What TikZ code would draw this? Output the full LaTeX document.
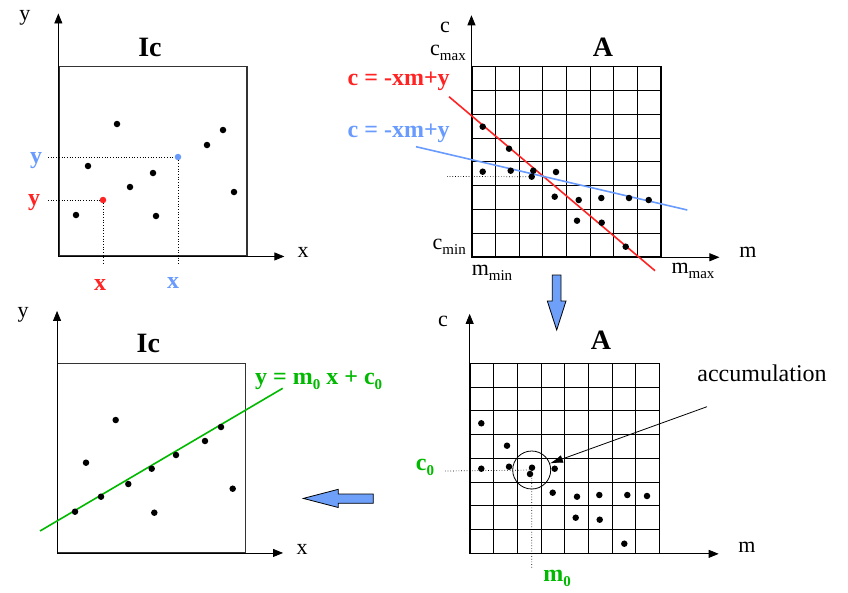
\documentclass[tikz,border=0pt]{standalone}
\usepackage{fontspec}
\setmainfont{Liberation Serif}
\usetikzlibrary{arrows.meta, positioning}
\definecolor{houghred}{RGB}{255,35,35}
\definecolor{houghblue}{RGB}{105,155,255}
\definecolor{houghgreen}{RGB}{0,185,0}
\definecolor{arrowblue}{RGB}{110,160,250}
\newcommand{\lowtext}[1]{\raisebox{-0.45ex}{\fontsize{15}{15}\selectfont #1}}

\begin{document}
\begin{tikzpicture}[
    x=1pt, y=-1pt,
    >={Triangle[length=10pt,width=8pt]},
    axis/.style={->, line width=0.8pt},
    imgbox/.style={draw=black!80, line width=1.3pt, minimum width=188pt, minimum height=189pt, inner sep=0pt},
    gridbox/.style={draw, line width=1.1pt, minimum width=189pt, minimum height=190pt, inner sep=0pt},
    gridline/.style={line width=0.8pt},
    spot/.style={circle, fill=black, inner sep=0pt, minimum size=6.5pt},
    lbl/.style={font=\fontsize{22}{24}\selectfont, inner sep=1pt},
    title/.style={font=\fontsize{28}{30}\selectfont\bfseries, inner sep=1pt},
    eqn/.style={font=\fontsize{24}{26}\selectfont\bfseries, inner sep=1pt},
    guide/.style={dotted, line width=0.7pt},
    fitline/.style={line width=1.6pt},
    blockarrow/.style={draw=black, line width=0.8pt, fill=arrowblue},
]
    \useasboundingbox (0,0) rectangle (848,592);

    % image space, one point and its coordinates
    \node[imgbox] (icTop) at (153,161.3) {};
    \node[title] (icTopTitle) at (150,47) {Ic};
    \draw[axis] (icTop.south west) -- ++(0,-243);
    \draw[axis] (icTop.south west) -- ++(226,0);
    \node[lbl] (icTopY) at (25,18) {y};
    \node[lbl] (icTopX) at (303,252) {x};
    \foreach \px/\py [count=\k] in {117/124, 88/166, 76/215, 130/187, 153/173, 156/216, 207/145, 223/130, 234/192}
        \node[spot] (tl\k) at (\px,\py) {};
    \node[spot, fill=houghred] (ptRed) at (103,200) {};
    \node[spot, fill=houghblue] (ptBlue) at (178,157) {};
    \coordinate (redY) at (48,200);
    \coordinate (redX) at (103,265);
    \coordinate (blueY) at (48,157);
    \coordinate (blueX) at (178,265);
    \draw[guide] (redY) -- (ptRed) -- (redX);
    \draw[guide] (blueY) -- (ptBlue) -- (blueX);
    \node[eqn, text=houghred] (labRedY) at (34,203) {y};
    \node[eqn, text=houghred] (labRedX) at (100,285) {x};
    \node[eqn, text=houghblue] (labBlueY) at (36,161) {y};
    \node[eqn, text=houghblue] (labBlueX) at (173,283) {x};

    % accumulator with the two lines
    \node[gridbox] (accTop) at (566.5,161.7) {};
    \foreach \i in {1,...,7} {
        \draw[gridline] (472+23.625*\i,66.7) -- (472+23.625*\i,256.7);
        \draw[gridline] (472,66.7+23.75*\i) -- (661,66.7+23.75*\i);
    }
    \draw[axis] (accTop.south west) -- ++(0,-242);
    \draw[axis] (accTop.south west) -- ++(248,0);
    \node[lbl] (accTopC) at (445,27) {c};
    \node[lbl] (accTopM) at (748,252) {m};
    \node[title] (accTopTitle) at (603,47) {A};
    \node[lbl, anchor=east] (cMax) at (467,53) {c\lowtext{max}};
    \node[lbl, anchor=east] (cMin) at (467,247) {c\lowtext{min}};
    \node[lbl] (mMin) at (492,273) {m\lowtext{min}};
    \node[lbl] (mMax) at (693,271) {m\lowtext{max}};
    \coordinate (redA) at (449,96.7);
    \coordinate (redB) at (655,270.7);
    \coordinate (blueA) at (416,146.7);
    \coordinate (blueB) at (687.3,210);
    \draw[fitline, houghred] (redA) -- (redB);
    \draw[fitline, houghblue] (blueA) -- (blueB);
    \node[eqn, text=houghred] (eqRed) at (398.7,81.7) {c = -xm+y};
    \node[eqn, text=houghblue] (eqBlue) at (398.7,133.3) {c = -xm+y};
    \foreach \px/\py [count=\k] in {482.7/126.7, 509/148.7, 482.7/171.7, 510.7/170.7, 533.3/170.7, 556/172, 554.7/196.7, 578.7/200, 601.3/198, 629/198, 648.7/200, 577/220.7, 601.7/222.7, 625.7/246.7}
        \node[spot] (tr\k) at (\px,\py) {};
    \node[spot] (votePeak) at (531.7,176.7) {};
    \coordinate (cMark) at (447,176.5);
    \draw[guide] (cMark) -- (votePeak.west);

    % accumulator after voting
    \node[gridbox] (accBot) at (564.7,458.3) {};
    \foreach \i in {1,...,7} {
        \draw[gridline] (470+23.66*\i,363.3) -- (470+23.66*\i,553.3);
        \draw[gridline] (470,363.3+23.75*\i) -- (659.3,363.3+23.75*\i);
    }
    \draw[axis] (accBot.south west) -- ++(0,-240);
    \draw[axis] (accBot.south west) -- ++(249,0);
    \node[lbl] (accBotC) at (443,321) {c};
    \node[lbl] (accBotM) at (747,547) {m};
    \node[title] (accBotTitle) at (601,340) {A};
    \foreach \px/\py [count=\k] in {481.3/423.3, 507/445.7, 481.3/468.7, 509/466.7, 532/467.7, 530/474, 554.7/468.7, 552.7/492.7, 577/496.7, 599.3/495, 627.3/495, 647/496, 575.7/517.7, 599.7/519.7, 624.3/543.7}
        \node[spot] (br\k) at (\px,\py) {};
    \node[circle, draw, line width=0.8pt, minimum size=38pt, inner sep=0pt] (peak) at (531.7,470) {};
    \coordinate (c0Mark) at (445,471);
    \coordinate (m0Mark) at (531.7,568);
    \draw[guide] (c0Mark) -- (peak.center) -- (m0Mark);
    \node[eqn, text=houghgreen] (labC0) at (425,467) {c\lowtext{0}};
    \node[eqn, text=houghgreen] (labM0) at (557,578) {m\lowtext{0}};
    \node[lbl, font=\fontsize{24}{26}\selectfont] (accLabel) at (762,373) {accumulation};
    \coordinate (accTail) at (707,406.7);
    \draw[line width=0.8pt, -{Latex[length=13pt,width=8pt]}] (accTail) -- (peak);

    % image space with the detected line
    \node[imgbox] (icBot) at (151.7,457.8) {};
    \node[title] (icBotTitle) at (148.3,343.3) {Ic};
    \draw[axis] (icBot.south west) -- ++(0,-242);
    \draw[axis] (icBot.south west) -- ++(226,0);
    \node[lbl] (icBotY) at (23,315) {y};
    \node[lbl] (icBotX) at (302,549) {x};
    \coordinate (greenA) at (40,531);
    \coordinate (greenB) at (282.7,388.3);
    \draw[fitline, houghgreen] (greenA) -- (greenB);
    \node[eqn, text=houghgreen, anchor=west] (eqGreen) at (254,380) {y = m\lowtext{0} x + c\lowtext{0}};
    \foreach \px/\py [count=\k] in {115.7/420, 86/462.7, 75/511.7, 101/496.7, 128.3/484, 151.7/468.7, 176/455, 205/441, 221/427, 232.7/488.7, 154.3/512.7}
        \node[spot] (bl\k) at (\px,\py) {};

    % block arrows
    \draw[blockarrow] (552.3,275) -- (561,275) -- (561,301) -- (566,301) -- (556.7,330) -- (547.3,301) -- (552.3,301) -- cycle;
    \draw[blockarrow] (373.3,494) -- (338.3,494) -- (338.3,489.3) -- (303.3,498.4) -- (338.3,507.5) -- (338.3,503.3) -- (373.3,503.3) -- cycle;
\end{tikzpicture}
\end{document}
